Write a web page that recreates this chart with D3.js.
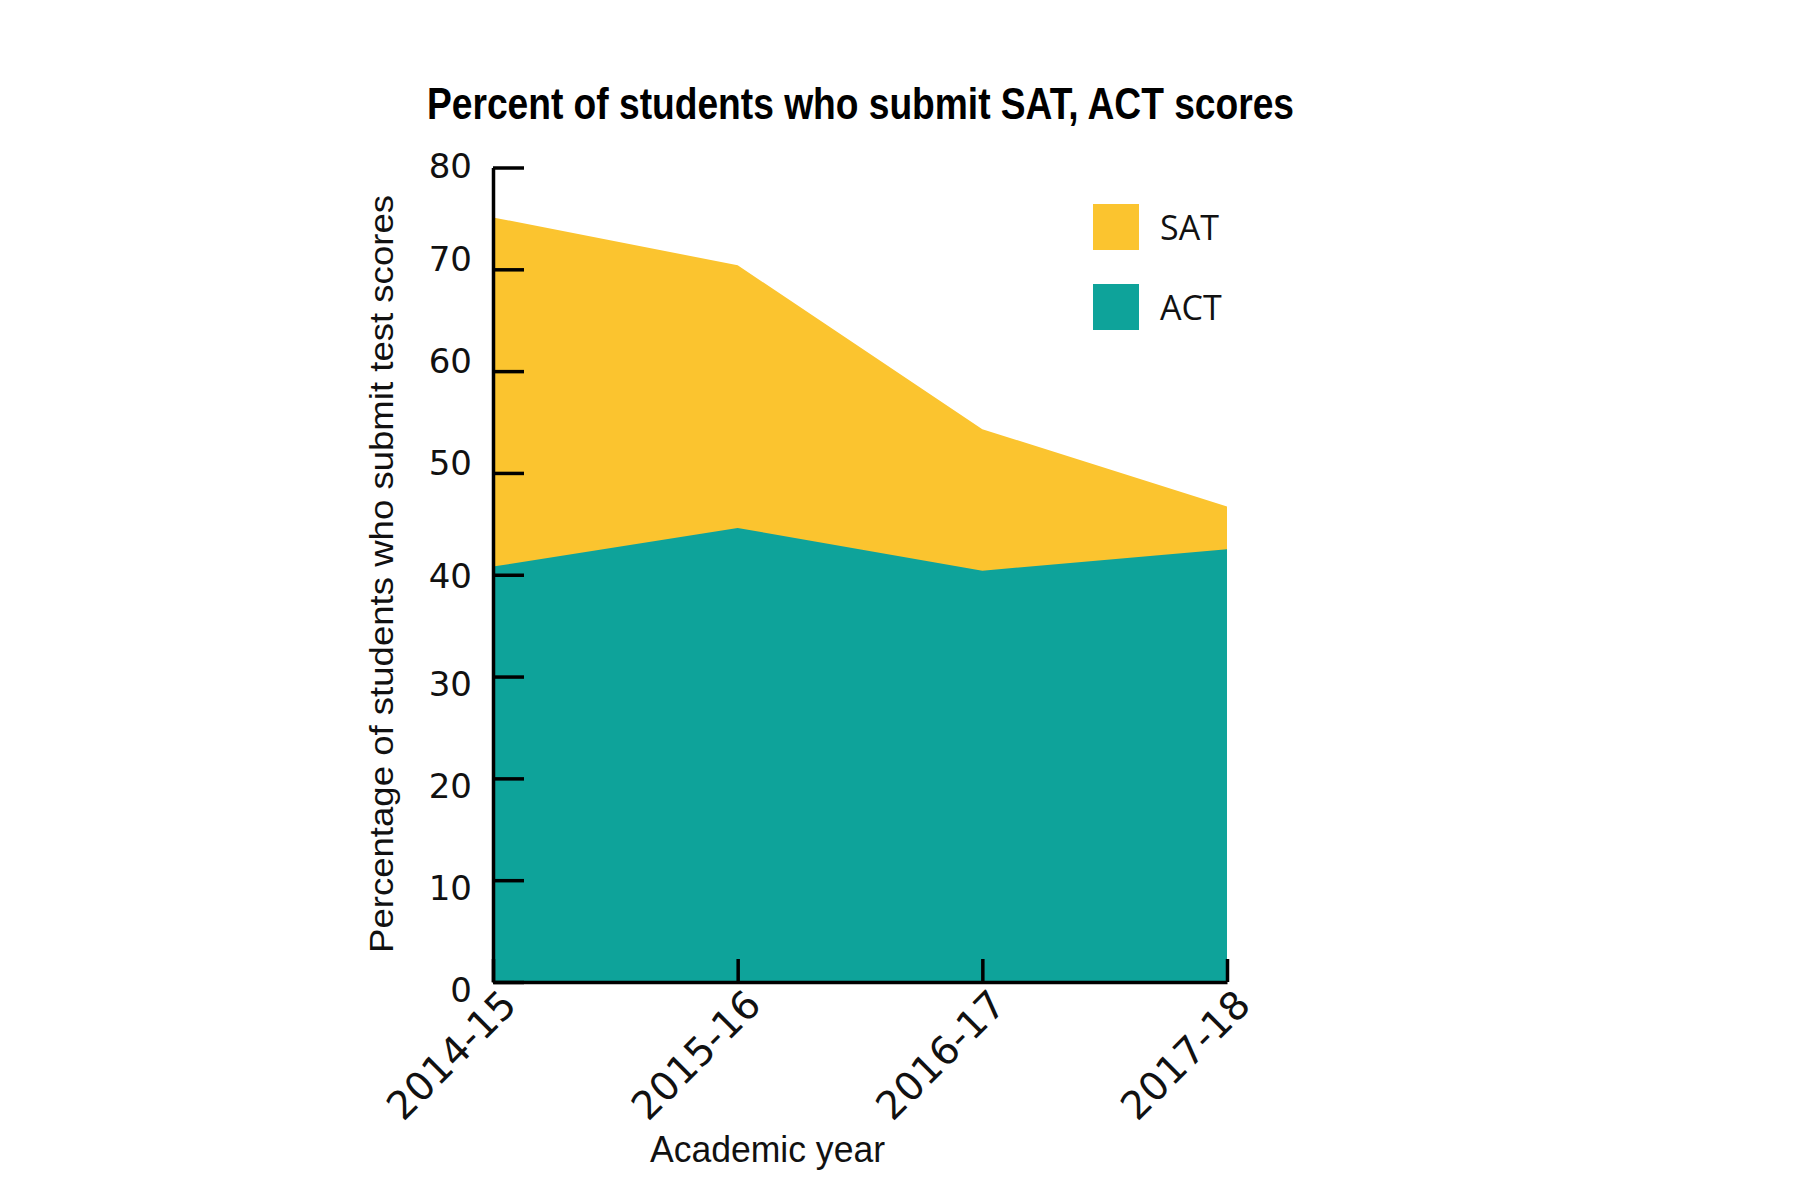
<!DOCTYPE html>
<html>
<head>
<meta charset="utf-8">
<script src="https://cdn.jsdelivr.net/npm/d3@7"></script>
<style>
  html, body { margin: 0; padding: 0; background: #ffffff; }
  svg { display: block; }
</style>
</head>
<body>
<svg id="chart" width="1801" height="1200"></svg>
<script>
const years = ["2014-15", "2015-16", "2016-17", "2017-18"];
const satValues = [75.1, 70.4, 54.3, 46.7];
const actValues = [40.8, 44.6, 40.4, 42.5];
const yTicks = [0, 10, 20, 30, 40, 50, 60, 70, 80];
const seriesNames = ["SAT", "ACT"];
const seriesColors = ["#FBC42F", "#0EA39A"];
const titleText = "Percent of students who submit SAT, ACT scores";
const yTitle = "Percentage of students who submit test scores";
const xTitle = "Academic year";

const svg = d3.select("#chart");
const x = d3.scalePoint().domain(years).range([493, 1227]);
const y = d3.scaleLinear().domain([0, 80]).range([982, 167.5]);

const area = d3.area()
  .x((d, i) => x(years[i]))
  .y0(y(0))
  .y1(d => y(d));

svg.append("path").datum(satValues).attr("d", area).attr("fill", seriesColors[0]);
svg.append("path").datum(actValues).attr("d", area).attr("fill", seriesColors[1]);

// Y axis
const yAxis = d3.axisLeft(y).tickValues(yTicks).tickSizeInner(-31).tickSizeOuter(0).tickPadding(21);
const gy = svg.append("g").attr("transform", `translate(${x(years[0])},0)`).call(yAxis);
gy.select(".domain").attr("stroke", "#000").attr("stroke-width", 3.5);
gy.selectAll(".tick line").attr("stroke", "#000").attr("stroke-width", 3.5);
// label nudges as in the original artwork (labels above 40 sit a bit higher, below 40 a bit lower)
const labelNudge = v => (v === 80 ? -2 : v > 40 ? -11 : v < 40 ? 7 : 0);
gy.selectAll(".tick text")
  .attr("font-family", "'DejaVu Sans', sans-serif")
  .attr("font-size", 34).attr("fill", "#111")
  .attr("dy", "0.36em")
  .attr("transform", d => `translate(0,${labelNudge(d)})`);

// X axis
const xAxis = d3.axisBottom(x).tickSizeInner(-23).tickSizeOuter(0).tickPadding(0);
const gx = svg.append("g").attr("transform", `translate(0,${y(0)})`).call(xAxis);
gx.select(".domain").attr("stroke", "#000").attr("stroke-width", 3.5);
gx.selectAll(".tick line").attr("stroke", "#000").attr("stroke-width", 3.5);
gx.selectAll(".tick text")
  .attr("font-family", "'DejaVu Sans', sans-serif")
  .attr("font-size", 39).attr("fill", "#111")
  .attr("text-anchor", "end")
  .attr("dy", null).attr("y", null)
  .attr("transform", "translate(25,25) rotate(-45)");

// Title
svg.append("text")
  .attr("x", 427).attr("y", 119)
  .attr("font-family", "'Liberation Sans Narrow', 'Liberation Sans', Arial, sans-serif")
  .attr("font-weight", "bold").attr("font-size", 44)
  .attr("textLength", 867).attr("lengthAdjust", "spacingAndGlyphs")
  .attr("fill", "#000").text(titleText);

// Y title
svg.append("text")
  .attr("transform", "translate(393,574) rotate(-90)")
  .attr("text-anchor", "middle")
  .attr("font-family", "'Liberation Sans', Arial, sans-serif")
  .attr("font-size", 33)
  .attr("textLength", 758).attr("lengthAdjust", "spacingAndGlyphs")
  .attr("fill", "#111").text(yTitle);

// X title
svg.append("text")
  .attr("x", 650).attr("y", 1162)
  .attr("font-family", "'Liberation Sans', Arial, sans-serif")
  .attr("font-size", 36)
  .attr("textLength", 235).attr("lengthAdjust", "spacingAndGlyphs")
  .attr("fill", "#111").text(xTitle);

// Legend
const legend = svg.append("g").attr("transform", "translate(1093,204)");
seriesNames.forEach((name, i) => {
  const g = legend.append("g").attr("transform", `translate(0,${i * 80})`);
  g.append("rect").attr("width", 46).attr("height", 46).attr("fill", seriesColors[i]);
  g.append("text").attr("x", 67).attr("y", 36)
    .attr("font-family", "'Open Sans', 'Liberation Sans', sans-serif")
    .attr("font-size", 34).attr("fill", "#111").text(name);
});
</script>
</body>
</html>
